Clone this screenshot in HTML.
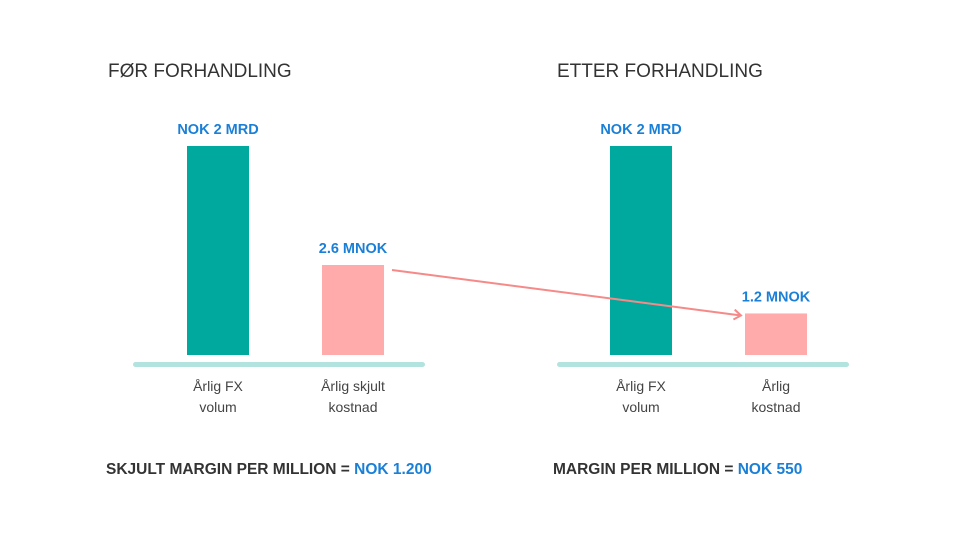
<!DOCTYPE html>
<html><head><meta charset="utf-8"><style>
body{margin:0;width:960px;height:540px;background:#fff;font-family:"Liberation Sans",sans-serif;overflow:hidden}
svg{display:block}
</style></head><body>
<svg id="chart" width="960" height="540">
<text x="108" y="77" font-size="19" fill="#333">FØR FORHANDLING</text>
<text x="557" y="77" font-size="19" fill="#333">ETTER FORHANDLING</text>
<rect x="133" y="362" width="292" height="5" rx="2.5" fill="#b3e3df"/>
<rect x="557" y="362" width="292" height="5" rx="2.5" fill="#b3e3df"/>
<g id="bars"></g>
<defs><marker id="ah" markerWidth="10" markerHeight="12" refX="8" refY="6" orient="auto" markerUnits="userSpaceOnUse"><path d="M1,1 L8,6 L1,11" fill="none" stroke="#f58a89" stroke-width="2"/></marker></defs>
<line id="arrow" stroke="#f58a89" stroke-width="2" marker-end="url(#ah)"/>
<text x="106" y="474" font-size="15.5" font-weight="bold" fill="#333">SKJULT MARGIN PER MILLION = <tspan fill="#1a7fd6">NOK 1.200</tspan></text>
<text x="553" y="474" font-size="15.5" font-weight="bold" fill="#333">MARGIN PER MILLION = <tspan fill="#1a7fd6">NOK 550</tspan></text>
</svg>
<script>
const volumeLabels = ["NOK 2 MRD", "NOK 2 MRD"];
const volumeValues = [2000, 2000];
const costValues = [2.6, 1.2];
const costLabels = ["2.6 MNOK", "1.2 MNOK"];
const categoryLabels = [["Årlig FX","volum"],["Årlig skjult","kostnad"],["Årlig FX","volum"],["Årlig","kostnad"]];

const NS="http://www.w3.org/2000/svg";
const baseY=355;
const yVol=v=>v/2000*209;
const yCost=v=>v/2.6*90;
const panelX=[187,610];
const g=document.getElementById('bars');
function txt(x,y,s,size,fill,weight){const t=document.createElementNS(NS,'text');t.setAttribute('x',x);t.setAttribute('y',y);t.setAttribute('font-size',size);t.setAttribute('fill',fill);if(weight)t.setAttribute('font-weight',weight);t.setAttribute('text-anchor','middle');t.textContent=s;g.appendChild(t);return t;}
const tops=[];
for(let i=0;i<2;i++){
  const x0=panelX[i];
  const hv=yVol(volumeValues[i]);
  const r=document.createElementNS(NS,'rect');
  r.setAttribute('x',x0);r.setAttribute('y',baseY-hv);r.setAttribute('width',62);r.setAttribute('height',hv);r.setAttribute('fill','#00a99d');
  
  
  g.appendChild(r);
  const l=txt(x0+31,baseY-hv-12,volumeLabels[i],14.5,'#1a7fd6','bold');
  
  
  const x1=x0+135;
  const hc=yCost(costValues[i]);
  const c=document.createElementNS(NS,'rect');
  c.setAttribute('x',x1);c.setAttribute('y',baseY-hc);c.setAttribute('width',62);c.setAttribute('height',hc);c.setAttribute('fill','#ffabac');
  
  
  g.appendChild(c);
  tops.push([x1,baseY-hc]);
  const cl=txt(x1+31,baseY-hc-12,costLabels[i],14.5,'#1a7fd6','bold');
  
  
  [x0+31,x1+31].forEach((cx,j)=>{
    const lines=categoryLabels[i*2+j];
    lines.forEach((s,k)=>{
      const t=txt(cx,391+k*21,s,14,'#444');
      
      
    });
  });
}
const a=document.getElementById('arrow');
a.setAttribute('x1',tops[0][0]+70);a.setAttribute('y1',tops[0][1]+5);
a.setAttribute('x2',tops[1][0]-4);a.setAttribute('y2',tops[1][1]+2);
</script>
</body></html>
